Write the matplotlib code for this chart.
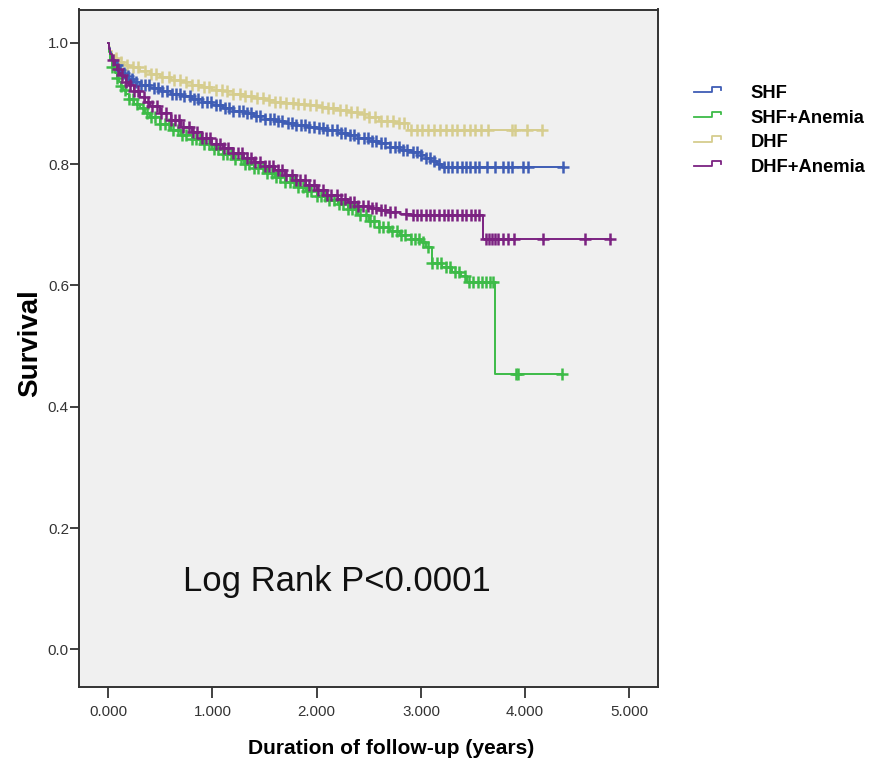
import numpy as np
import matplotlib
matplotlib.use("Agg")
import matplotlib.pyplot as plt
from matplotlib.lines import Line2D
from matplotlib.legend_handler import HandlerBase
from matplotlib import font_manager as fm

# ---------------- data ----------------
labels = ["SHF", "SHF+Anemia", "DHF", "DHF+Anemia"]

shf_t = [0, 0.01, 0.02, 0.03, 0.05, 0.07, 0.1, 0.13, 0.16, 0.2, 0.25, 0.3, 0.4, 0.5,
         0.6, 0.7, 0.8, 0.9, 1.0, 1.1, 1.2, 1.3, 1.4, 1.5, 1.6, 1.7, 1.8, 1.9, 2.0,
         2.1, 2.2, 2.3, 2.4, 2.5, 2.6, 2.7, 2.8, 2.9, 3.0, 3.05, 3.1, 3.15, 3.2]
shf_s = [1.0, 0.992, 0.985, 0.978, 0.97, 0.963, 0.956, 0.95, 0.945, 0.94, 0.935,
         0.931, 0.925, 0.92, 0.916, 0.912, 0.908, 0.903, 0.898, 0.893, 0.888, 0.884,
         0.879, 0.875, 0.871, 0.868, 0.865, 0.862, 0.859, 0.856, 0.852, 0.848, 0.843,
         0.839, 0.835, 0.828, 0.824, 0.82, 0.815, 0.81, 0.806, 0.8, 0.796]
shf_end = 4.36
shf_cens = [0.08, 0.11, 0.15, 0.19, 0.23, 0.27, 0.31, 0.35, 0.39, 0.44, 0.48, 0.52,
            0.56, 0.61, 0.65, 0.69, 0.73, 0.78, 0.82, 0.86, 0.9, 0.95, 0.99, 1.03,
            1.07, 1.12, 1.16, 1.2, 1.25, 1.29, 1.33, 1.37, 1.42, 1.46, 1.5, 1.55,
            1.59, 1.63, 1.67, 1.72, 1.76, 1.8, 1.85, 1.89, 1.93, 1.97, 2.02, 2.06,
            2.1, 2.15, 2.19, 2.23, 2.27, 2.32, 2.36, 2.4, 2.45, 2.49, 2.53, 2.57,
            2.62, 2.66, 2.7, 2.75, 2.79, 2.83, 2.87, 2.92, 2.96, 3.0, 3.05, 3.09,
            3.13, 3.17, 3.22, 3.26, 3.3, 3.35, 3.39, 3.43, 3.47, 3.52, 3.56, 3.63,
            3.71, 3.79, 3.84, 3.87, 3.98, 4.03, 4.36]

shfa_t = [0, 0.01, 0.02, 0.04, 0.06, 0.08, 0.1, 0.12, 0.14, 0.17, 0.2, 0.25, 0.3,
          0.35, 0.4, 0.5, 0.6, 0.7, 0.8, 0.9, 1.0, 1.1, 1.2, 1.3, 1.4, 1.5, 1.6, 1.7,
          1.8, 1.9, 2.0, 2.1, 2.2, 2.3, 2.4, 2.5, 2.6, 2.7, 2.8, 2.9, 3.0, 3.05, 3.11,
          3.2, 3.3, 3.38, 3.44, 3.71]
shfa_s = [1.0, 0.985, 0.972, 0.96, 0.95, 0.942, 0.935, 0.929, 0.923, 0.915, 0.907,
          0.899, 0.892, 0.885, 0.878, 0.866, 0.856, 0.848, 0.842, 0.834, 0.825, 0.817,
          0.808, 0.8, 0.793, 0.786, 0.779, 0.771, 0.763, 0.756, 0.748, 0.741, 0.734,
          0.726, 0.717, 0.707, 0.697, 0.69, 0.684, 0.677, 0.671, 0.664, 0.637, 0.63,
          0.623, 0.615, 0.606, 0.454]
shfa_end = 4.35
shfa_cens = [0.04, 0.08, 0.12, 0.16, 0.2, 0.24, 0.28, 0.33, 0.37, 0.41, 0.45, 0.5,
             0.54, 0.58, 0.62, 0.67, 0.71, 0.75, 0.8, 0.84, 0.88, 0.92, 0.97, 1.01,
             1.05, 1.1, 1.14, 1.18, 1.22, 1.27, 1.31, 1.35, 1.4, 1.44, 1.48, 1.52,
             1.57, 1.61, 1.65, 1.7, 1.74, 1.78, 1.82, 1.87, 1.91, 1.95, 2.0, 2.04,
             2.08, 2.12, 2.17, 2.21, 2.25, 2.3, 2.34, 2.38, 2.42, 2.47, 2.51, 2.55,
             2.6, 2.64, 2.68, 2.72, 2.77, 2.81, 2.85, 2.9, 2.94, 2.98, 3.02, 3.07,
             3.11, 3.15, 3.19, 3.24, 3.28, 3.33, 3.37, 3.42, 3.46, 3.5, 3.55, 3.59,
             3.62, 3.66, 3.69, 3.91, 3.93, 4.35]

dhf_t = [0, 0.01, 0.02, 0.04, 0.06, 0.08, 0.1, 0.15, 0.2, 0.3, 0.4, 0.5, 0.6, 0.7,
         0.8, 0.9, 1.0, 1.1, 1.2, 1.3, 1.4, 1.5, 1.6, 1.7, 1.8, 1.9, 2.0, 2.1, 2.2,
         2.3, 2.4, 2.5, 2.6, 2.75, 2.88]
dhf_s = [1.0, 0.993, 0.987, 0.98, 0.975, 0.971, 0.968, 0.964, 0.96, 0.954, 0.948,
         0.943, 0.939, 0.935, 0.931, 0.927, 0.923, 0.92, 0.916, 0.912, 0.909, 0.906,
         0.903, 0.901, 0.899, 0.897, 0.895, 0.892, 0.889, 0.886, 0.882, 0.877, 0.871,
         0.868, 0.856]
dhf_end = 4.16
dhf_cens = [0.07, 0.12, 0.18, 0.24, 0.29, 0.35, 0.41, 0.46, 0.52, 0.58, 0.63, 0.69,
            0.75, 0.8, 0.86, 0.92, 0.97, 1.03, 1.09, 1.14, 1.2, 1.26, 1.31, 1.37,
            1.43, 1.48, 1.54, 1.6, 1.65, 1.71, 1.77, 1.82, 1.88, 1.94, 1.99, 2.05,
            2.11, 2.16, 2.22, 2.28, 2.33, 2.39, 2.45, 2.5, 2.56, 2.62, 2.67, 2.73,
            2.79, 2.84, 2.9, 2.96, 3.01, 3.07, 3.13, 3.18, 3.24, 3.3, 3.35, 3.41,
            3.47, 3.52, 3.58, 3.64, 3.87, 3.9, 4.02, 4.16]

dhfa_t = [0, 0.01, 0.02, 0.04, 0.06, 0.08, 0.1, 0.12, 0.14, 0.17, 0.2, 0.25, 0.3,
          0.35, 0.4, 0.5, 0.6, 0.7, 0.8, 0.9, 1.0, 1.1, 1.2, 1.3, 1.4, 1.5, 1.6, 1.7,
          1.8, 1.9, 2.0, 2.1, 2.2, 2.3, 2.4, 2.5, 2.6, 2.7, 2.8, 2.9, 3.6]
dhfa_s = [1.0, 0.99, 0.982, 0.972, 0.964, 0.957, 0.951, 0.947, 0.943, 0.936, 0.93,
          0.92, 0.911, 0.903, 0.896, 0.884, 0.872, 0.862, 0.853, 0.843, 0.834, 0.826,
          0.818, 0.81, 0.803, 0.797, 0.79, 0.782, 0.774, 0.766, 0.757, 0.749, 0.743,
          0.737, 0.731, 0.727, 0.724, 0.721, 0.718, 0.716, 0.676]
dhfa_end = 4.81
dhfa_cens = [0.05, 0.09, 0.13, 0.17, 0.21, 0.25, 0.29, 0.34, 0.38, 0.42, 0.47, 0.51,
             0.55, 0.6, 0.64, 0.68, 0.72, 0.77, 0.81, 0.85, 0.9, 0.94, 0.98, 1.03,
             1.07, 1.11, 1.15, 1.2, 1.24, 1.28, 1.33, 1.37, 1.41, 1.46, 1.5, 1.54,
             1.58, 1.63, 1.67, 1.71, 1.76, 1.8, 1.84, 1.89, 1.93, 1.97, 2.01, 2.06,
             2.1, 2.14, 2.19, 2.23, 2.27, 2.32, 2.36, 2.4, 2.44, 2.49, 2.53, 2.57,
             2.62, 2.66, 2.7, 2.75, 2.86, 2.92, 2.96, 3.0, 3.05, 3.09, 3.13, 3.17,
             3.22, 3.26, 3.3, 3.35, 3.39, 3.43, 3.48, 3.52, 3.56, 3.62, 3.65, 3.68,
             3.71, 3.74, 3.79, 3.84, 3.89, 4.17, 4.57, 4.81]

x_ticks = [0, 1, 2, 3, 4, 5]
y_ticks = [0.0, 0.2, 0.4, 0.6, 0.8, 1.0]
annotation = "Log Rank P<0.0001"

# ---------------- style ----------------
colors = ["#3f5db5", "#3dbb48", "#d6cd8e", "#7b2281"]

names = {f.name for f in fm.fontManager.ttflist}
if "Liberation Sans Narrow" in names:
    narrow = "Liberation Sans Narrow"
    nscale = 1.0
else:
    narrow = "Liberation Sans"
    nscale = 0.84
regular = "Liberation Sans"

fig = plt.figure(figsize=(8.79, 7.68), dpi=100)
fig.patch.set_facecolor("white")
ax = fig.add_axes([79.3 / 879, 1 - 686.7 / 768, (657.5 - 79.3) / 879, (686.7 - 9.5) / 768])
ax.set_facecolor("#f0f0f0")

series = [
    (shf_t, shf_s, shf_end, shf_cens),
    (shfa_t, shfa_s, shfa_end, shfa_cens),
    (dhf_t, dhf_s, dhf_end, dhf_cens),
    (dhfa_t, dhfa_s, dhfa_end, dhfa_cens),
]
order = [2, 0, 1, 3]
handles = [None] * 4
for z, i in enumerate(order):
    t, s, tend, cens = series[i]
    t = np.asarray(t, float)
    s = np.asarray(s, float)
    tt = np.append(t, tend)
    ss = np.append(s, s[-1])
    ln, = ax.step(tt, ss, where="post", color=colors[i], lw=1.4, zorder=3 + z)
    c = np.asarray(cens, float)
    idx = np.searchsorted(t, c, side="right") - 1
    ax.plot(c, s[idx], linestyle="none", marker="+", ms=9, mew=1.8,
            color=colors[i], zorder=3 + z)
    handles[i] = ln

ax.set_xlim(-0.278, 5.27)
ax.set_ylim(-0.0615, 1.055)
ax.set_xticks(x_ticks)
ax.set_xticklabels([f"{v:.3f}" for v in x_ticks])
ax.set_yticks(y_ticks)
ax.set_yticklabels([f"{v:.1f}" for v in y_ticks])

for lab in ax.get_xticklabels() + ax.get_yticklabels():
    lab.set_fontfamily(narrow)
    lab.set_fontsize(13 * nscale)
    lab.set_color("#333333")
ax.tick_params(axis="x", length=8, width=1.3, pad=5, color="#333333")
ax.tick_params(axis="y", length=6.5, width=1.3, pad=1, color="#333333")
for sp in ax.spines.values():
    sp.set_color("#333333")
    sp.set_linewidth(1.4)

fig.text(391.5 / 879, 1 - 749 / 768, "Duration of follow-up (years)",
         ha="center", va="center", fontfamily=narrow, fontweight="bold",
         fontsize=18.0 * nscale)
fig.text(30.5 / 879, 1 - 343 / 768, "Survival", rotation=90,
         ha="center", va="center", fontfamily=regular, fontweight="bold",
         fontsize=20)

ax.text(183.3 / 879, 1 - 581 / 768, annotation, transform=fig.transFigure,
        ha="left", va="center", fontfamily=narrow, fontsize=29.7 * nscale,
        color="#111111")


class StepHandler(HandlerBase):
    def create_artists(self, legend, orig_handle, xdescent, ydescent, width,
                       height, fontsize, trans):
        xs = np.array([0, 0.64, 0.64, 1.0, 1.0]) * width - xdescent
        ys = np.array([0.45, 0.45, 0.85, 0.85, 0.65]) * height - ydescent
        l = Line2D(xs, ys, color=orig_handle.get_color(), lw=1.3)
        l.set_transform(trans)
        return [l]


leg = fig.legend(handles, labels, loc="upper left",
                 bbox_to_anchor=(694 / 879, 1 - 85 / 768),
                 frameon=False, borderpad=0, borderaxespad=0,
                 handlelength=1.5, handletextpad=1.6, labelspacing=0.42,
                 handler_map={Line2D: StepHandler()},
                 prop={"family": regular, "weight": "bold", "size": 13.2})

fig.savefig("out.png", dpi=100, facecolor="white")
